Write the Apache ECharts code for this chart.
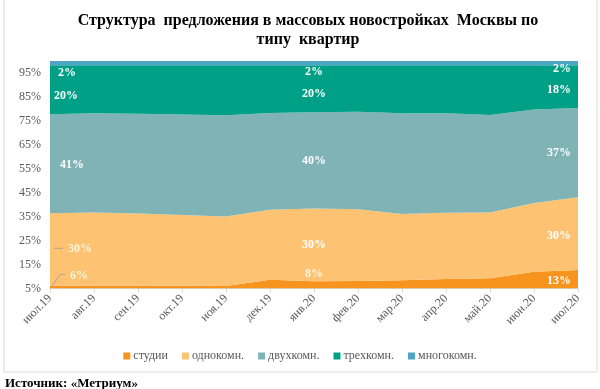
<!DOCTYPE html>
<html>
<head>
<meta charset="utf-8">
<script src="https://cdn.jsdelivr.net/npm/echarts@6/dist/echarts.min.js"></script>
<style>
  html, body { margin: 0; padding: 0; background: #ffffff; }
  #chart { width: 600px; height: 389px; }
</style>
</head>
<body>
<div id="chart"></div>
<script>
const categories = ['июл.19','авг.19','сен.19','окт.19','ноя.19','дек.19','янв.20','фев.20','мар.20','апр.20','май.20','июн.20','июл.20'];
const seriesNames = ['студии','однокомн.','двухкомн.','трехкомн.','многокомн.'];
const studio    = [6.1, 6.3, 6.3, 6.2, 6.0, 8.7, 8.0, 8.1, 8.4, 9.0, 9.3, 12.0, 12.7];
const oneRoom   = [30.3, 30.4, 30.0, 29.5, 29.1, 29.2, 30.4, 30.0, 27.7, 27.6, 27.4, 28.7, 30.4];
const twoRoom   = [41.4, 41.5, 41.7, 42.0, 42.2, 40.4, 40.2, 40.7, 42.1, 41.6, 40.7, 39.0, 37.3];
const threeRoom = [20.4, 20.0, 20.2, 20.5, 20.9, 19.9, 19.6, 19.4, 20.0, 20.0, 20.8, 18.5, 17.8];
const multiRoom = [1.8, 1.8, 1.8, 1.8, 1.8, 1.8, 1.8, 1.8, 1.8, 1.8, 1.8, 1.8, 1.8];
const labelledIdx = [0, 6, 12];

const colors = ['#F7941D', '#FDC272', '#80B3B6', '#00A087', '#4EA6C4'];
const serif = '"Liberation Serif", "DejaVu Serif", serif';
// pixel offsets of labels from the top of each band, for the 3 labelled months
const labelDy = [[-10, -7, 10.6], [36, 36, 39], [51, 48.6, 45], [30.6, 28.6, 24.6], [12, 11, 8]];
const firstDx = [20, 18, 10, 4, 8];
const labelColor = [['#fff4dc', '#fff4dc', '#ffffff'], ['#fff4dc', '#ffffff', '#ffffff'], ['#fff','#fff','#fff'], ['#fff','#fff','#fff'], ['#fff','#fff','#fff']];

const allValues = [studio, oneRoom, twoRoom, threeRoom, multiRoom];

function buildData(values, si) {
  return values.map((v, i) => {
    const k = labelledIdx.indexOf(i);
    if (k < 0) return v;
    const align = k === 0 ? 'left' : (k === 1 ? 'center' : 'right');
    const dx = k === 0 ? firstDx[si] : (k === 1 ? 0 : -7);
    return {
      value: v,
      label: {
        show: true,
        position: 'inside',
        align: align,
        verticalAlign: 'middle',
        offset: [dx, labelDy[si][k]],
        color: labelColor[si][k],
        fontFamily: serif,
        fontWeight: 'bold',
        fontSize: 12,
        formatter: p => Math.round(p.value) + '%'
      }
    };
  });
}

const chart = echarts.init(document.getElementById('chart'), null, { renderer: 'canvas' });

const series = allValues.map((vals, si) => ({
  name: seriesNames[si],
  type: 'line',
  stack: 'total',
  symbol: 'circle',
  symbolSize: 0,
  showSymbol: true,
  lineStyle: { width: 0 },
  itemStyle: { color: colors[si] },
  areaStyle: { color: colors[si], opacity: 1 },
  emphasis: { disabled: true },
  label: { show: false },
  z: 2,
  data: buildData(vals, si)
}));

chart.setOption({
  animation: false,
  backgroundColor: '#ffffff',
  title: [{
    text: 'Структура  предложения в массовых новостройках  Москвы по\nтипу  квартир',
    left: 303,
    top: 6,
    textAlign: 'center',
    textStyle: { fontFamily: serif, fontWeight: 'bold', fontSize: 16, color: '#000', lineHeight: 19 }
  }, {
    text: 'Источник: «Метриум»',
    left: 0,
    top: 372,
    textStyle: { fontFamily: serif, fontWeight: 'bold', fontSize: 13, color: '#000' }
  }],
  legend: {
    data: seriesNames,
    top: 345,
    left: 'center',
    icon: 'rect',
    itemWidth: 7,
    itemHeight: 7,
    itemGap: 14,
    textStyle: { fontFamily: serif, fontSize: 12, color: '#595959', padding: [0, 0, 0, -2] }
  },
  grid: { left: 50, right: 22, top: 61, bottom: 100.5, containLabel: false },
  xAxis: {
    type: 'category',
    data: categories,
    boundaryGap: false,
    axisLine: { lineStyle: { color: '#d9d9d9' } },
    axisTick: { show: true, length: 4, lineStyle: { color: '#d9d9d9' } },
    axisLabel: { rotate: 45, interval: 0, fontFamily: serif, fontSize: 12, color: '#595959', margin: 8 },
    splitLine: { show: false }
  },
  yAxis: {
    type: 'value',
    min: 5,
    max: 100,
    interval: 5,
    axisLine: { show: false },
    axisTick: { show: false },
    splitLine: { show: false },
    axisLabel: {
      fontFamily: serif, fontSize: 12, color: '#595959', margin: 9,
      formatter: v => (Math.round(v) % 10 === 5 ? Math.round(v) + '%' : '')
    }
  },
  series: series
});

// decorative border and leader lines (computed from the axes)
const x0 = chart.convertToPixel({ xAxisIndex: 0 }, categories[0]);
const yBase = chart.convertToPixel({ yAxisIndex: 0 }, 5);
const yOneTop = chart.convertToPixel({ yAxisIndex: 0 }, studio[0] + oneRoom[0]);
const yStudioTop = chart.convertToPixel({ yAxisIndex: 0 }, studio[0]);
const yOneLbl = yOneTop + labelDy[1][0] - 1;
const yStLbl = yStudioTop + labelDy[0][0] - 1.5;
chart.setOption({
  graphic: [
    { type: 'rect', shape: { x: 4, y: -2, width: 593, height: 374 }, style: { fill: 'none', stroke: '#d9d9d9', lineWidth: 1 }, silent: true, z: -1 },
    { type: 'polyline', shape: { points: [[x0 + 4, yOneLbl], [x0 + 13, yOneLbl]] }, style: { stroke: '#b5a48c', lineWidth: 1, fill: 'none' }, z: 10 },
    { type: 'polyline', shape: { points: [[x0 + 1, yBase - 1], [x0 + 10, yStLbl], [x0 + 15, yStLbl]] }, style: { stroke: '#b5a48c', lineWidth: 1, fill: 'none' }, z: 10 }
  ]
});
</script>
</body>
</html>
